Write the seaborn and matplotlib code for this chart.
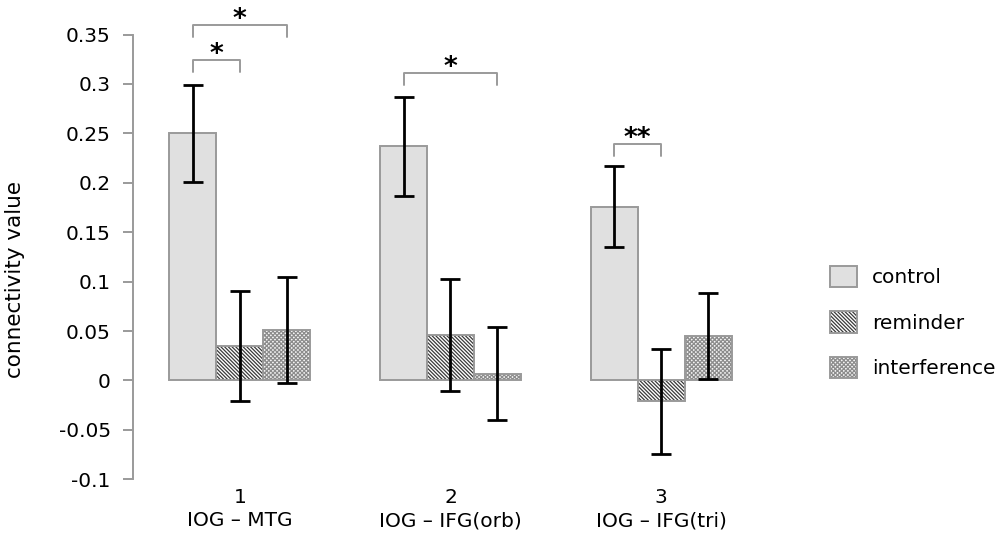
import matplotlib
matplotlib.use("Agg")
import matplotlib.pyplot as plt
import seaborn as sns
import pandas as pd
import numpy as np
from matplotlib.patches import Patch, Rectangle

# ---------------- data ----------------
regions = ["1\nIOG – MTG", "2\nIOG – IFG(orb)", "3\nIOG – IFG(tri)"]
conditions = ["control", "reminder", "interference"]
control_vals = [0.250, 0.237, 0.176]
reminder_vals = [0.035, 0.046, -0.021]
interference_vals = [0.051, 0.007, 0.045]
control_err = [0.049, 0.050, 0.041]
reminder_err = [0.056, 0.057, 0.053]
interference_err = [0.054, 0.047, 0.044]
ytick_values = [-0.1, -0.05, 0, 0.05, 0.1, 0.15, 0.2, 0.25, 0.3, 0.35]
ytick_labels = ["-0.1", "-0.05", "0", "0.05", "0.1", "0.15", "0.2", "0.25", "0.3", "0.35"]
# significance pairs: (region index, condition a, condition b, label)
sig_pairs = [
    (0, "control", "reminder", "*"),
    (0, "control", "interference", "*"),
    (1, "control", "interference", "*"),
    (2, "control", "reminder", "**"),
]

# ---------------- styling ----------------
bracket_tops = [0.3245, 0.360, 0.3106, 0.239]
bracket_leg = 0.012
fills = {"control": "#e0e0e0", "reminder": "white", "interference": "#f4f4f4"}
hatches = {"control": "", "reminder": "\\" * 9, "interference": "x" * 8}
hatch_colors = {"control": "#9a9a9a", "reminder": "#3a3a3a", "interference": "#8c8c8c"}
outline = "#9a9a9a"
fs = 14.5

df = pd.DataFrame({
    "region": regions * 3,
    "condition": np.repeat(conditions, 3),
    "value": control_vals + reminder_vals + interference_vals,
    "err": control_err + reminder_err + interference_err,
})

sns.set_theme(style="ticks")
plt.rcParams["font.family"] = ["DejaVu Sans"]
plt.rcParams["text.color"] = "black"
plt.rcParams["hatch.linewidth"] = 0.9

fig = plt.figure(figsize=(10, 5.4), dpi=100)
ax = fig.add_axes([0.133, 0.1124, 0.6335, 0.8236])

sns.barplot(data=df, x="region", y="value", hue="condition", order=regions,
            hue_order=conditions, palette=fills, width=0.668, errorbar=None,
            edgecolor=outline, linewidth=1.4, saturation=1, legend=False, ax=ax)

centers = {}
for cond, cont in zip(conditions, ax.containers):
    sub = df[df.condition == cond].set_index("region").loc[regions]
    xs = [p.get_x() + p.get_width() / 2 for p in cont.patches]
    centers[cond] = xs
    if hatches[cond]:
        for p in cont.patches:
            p.set_hatch(hatches[cond])
            p.set_edgecolor(hatch_colors[cond])
            p.set_linewidth(0)
            ax.add_patch(Rectangle(p.get_xy(), p.get_width(), p.get_height(),
                                   fill=False, ec=outline, lw=1.4,
                                   zorder=p.get_zorder() + 0.1))
    ax.errorbar(xs, sub["value"].values, yerr=sub["err"].values, fmt="none",
                ecolor="black", elinewidth=2, capsize=7, capthick=2, zorder=5)

for (ri, a, b, label), ytop in zip(sig_pairs, bracket_tops):
    xa = centers[a][ri]
    xb = centers[b][ri]
    ax.plot([xa, xa, xb, xb], [ytop - bracket_leg, ytop, ytop, ytop - bracket_leg],
            color=outline, lw=1.4, clip_on=False)
    ax.text((xa + xb) / 2, ytop - 0.002, label, ha="center", va="baseline",
            fontsize=19, fontweight="bold", color="black", clip_on=False)

ax.set_ylim(-0.1, 0.35)
ax.set_xlim(-0.507, 2.5)
ax.set_yticks(ytick_values)
ax.set_yticklabels(ytick_labels)
sns.despine(ax=ax, bottom=True)
ax.spines["left"].set_color(outline)
ax.spines["left"].set_linewidth(1.4)
ax.tick_params(axis="y", length=7, width=1.4, color=outline, pad=9,
               labelsize=fs, labelcolor="black")
ax.tick_params(axis="x", length=0, pad=6, labelsize=fs, labelcolor="black")
for t in ax.get_xticklabels():
    t.set_linespacing(1.3)
ax.set_xlabel("")
ax.set_ylabel("connectivity value", fontsize=15.5, color="black")
ax.yaxis.set_label_coords(-0.1705, 0.45)

handles = []
for cond in conditions:
    if hatches[cond]:
        h = (Patch(facecolor=fills[cond], edgecolor=hatch_colors[cond],
                   hatch=hatches[cond], linewidth=0),
             Patch(facecolor="none", edgecolor=outline, linewidth=1.4))
    else:
        h = Patch(facecolor=fills[cond], edgecolor=outline, linewidth=1.4)
    handles.append(h)
fig.legend(handles, conditions, loc="center left", bbox_to_anchor=(0.822, 0.4037),
           frameon=False, fontsize=fs, labelcolor="black", handlelength=1.35,
           handleheight=1.25, handletextpad=0.75, labelspacing=1.2,
           borderaxespad=0, borderpad=0.4)

fig.savefig("out.png", dpi=100)
